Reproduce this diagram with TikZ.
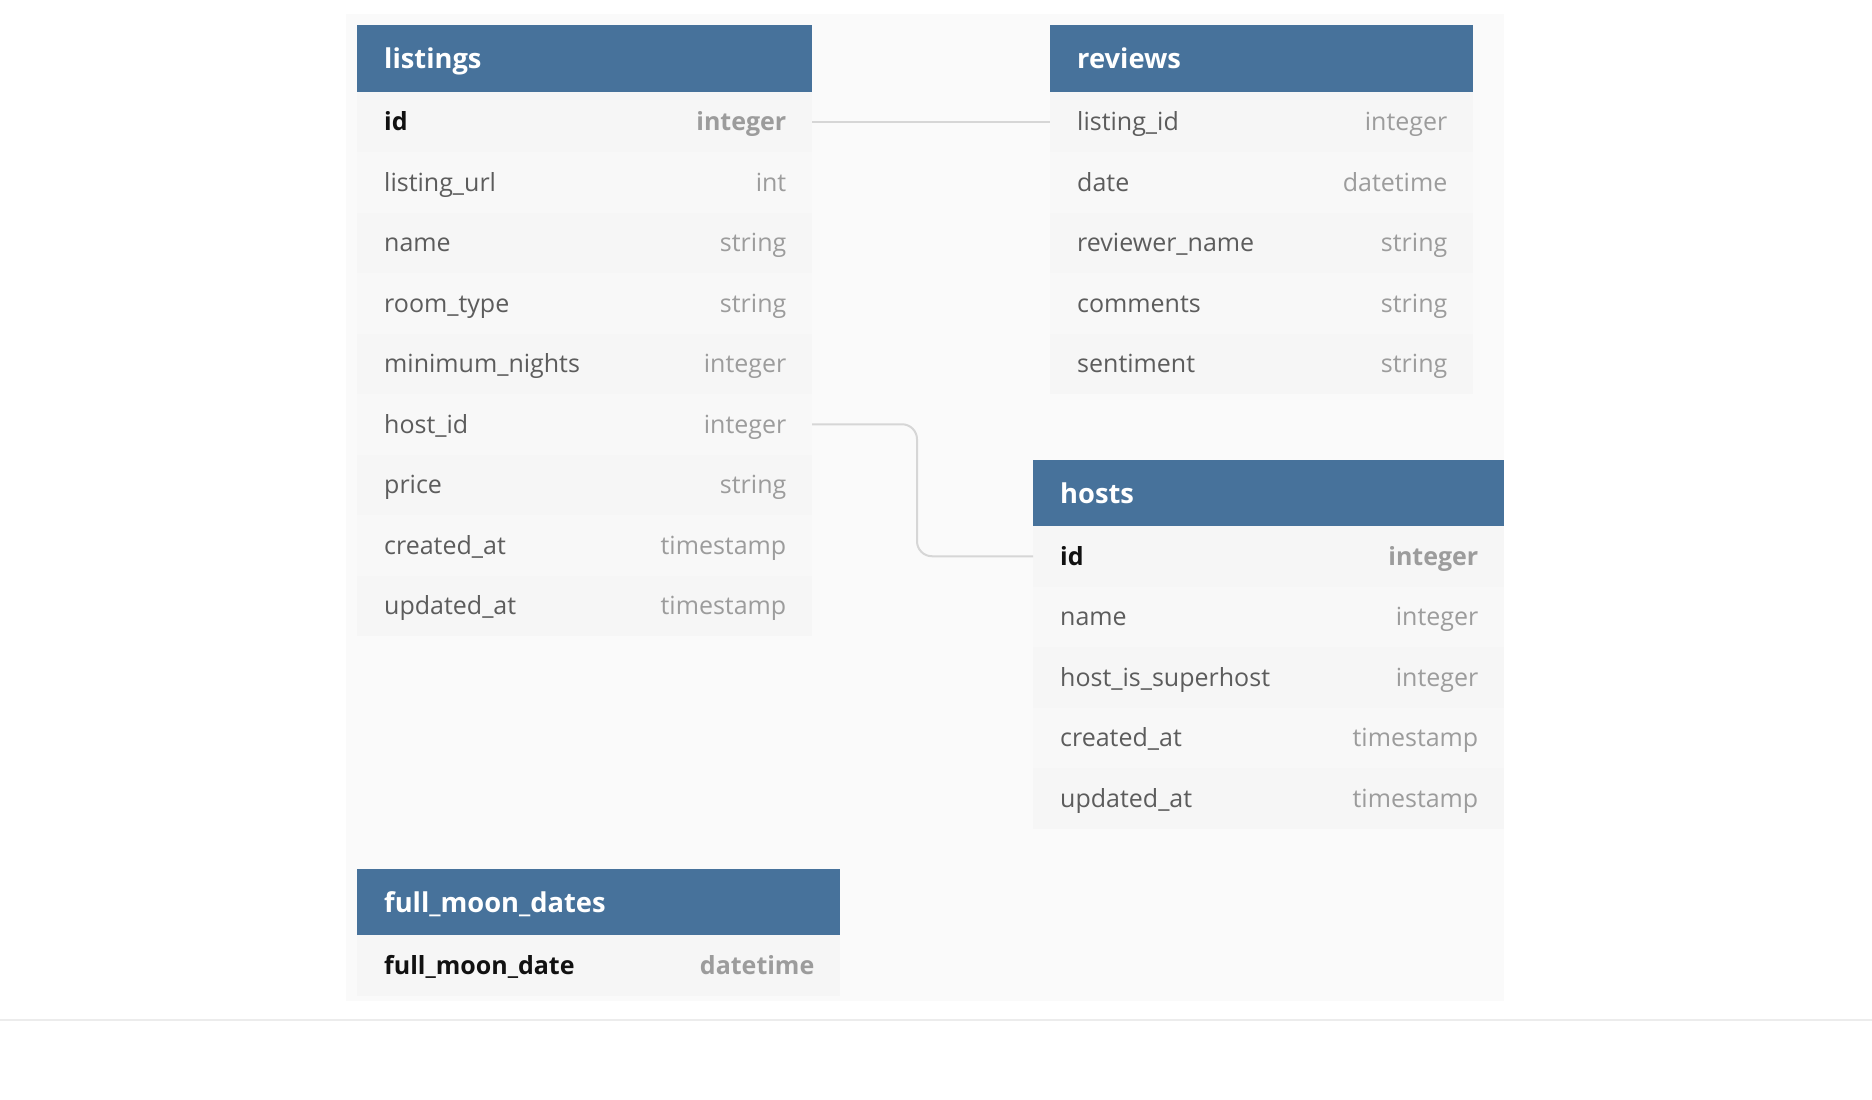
\documentclass[tikz,border=0pt]{standalone}
\usepackage{fontspec}
\setmainfont{Open Sans}
\usetikzlibrary{calc}
\definecolor{hdr}{HTML}{47729B}
\definecolor{rowa}{HTML}{F6F6F6}
\definecolor{rowb}{HTML}{F8F8F8}
\definecolor{panel}{HTML}{FAFAFA}
\definecolor{fieldc}{HTML}{5C5C5C}
\definecolor{typec}{HTML}{9C9C9C}
\definecolor{keyc}{HTML}{111111}
\definecolor{connc}{HTML}{D6D6D6}
\definecolor{rulec}{HTML}{ECECEC}
\tikzset{
  hdrbox/.style={fill=hdr, draw=none, inner sep=0pt, outer sep=0pt, minimum height=66.5pt, anchor=north west},
  hdrtext/.style={text=white, inner sep=0pt, anchor=base west, font=\fontsize{27.3}{31}\selectfont\bfseries},
  rowbox/.style={draw=none, inner sep=0pt, outer sep=0pt, minimum height=60.5pt, anchor=north west},
  plainname/.style={text=fieldc, inner sep=0pt, anchor=base west, font=\fontsize{25}{29}\selectfont},
  plaintype/.style={text=typec, inner sep=0pt, anchor=base east, font=\fontsize{25}{29}\selectfont},
  keyname/.style={text=keyc, inner sep=0pt, anchor=base west, font=\fontsize{25}{29}\selectfont\bfseries},
  keytype/.style={text=typec, inner sep=0pt, anchor=base east, font=\fontsize{25}{29}\selectfont\bfseries},
  conn/.style={draw=connc, line width=2pt},
}
% #1 name, #2 left x, #3 top y, #4 width, #5 field, #6 type, #7 style prefix, #8 fill
\newcommand{\tabrow}[8]{%
  \node[rowbox, fill=#8, minimum width=#4pt] (#1) at (#2,#3) {};
  \node[#7name] (#1-f) at ([xshift=27pt,yshift=-9pt]#1.west) {#5};
  \node[#7type] (#1-t) at ([xshift=-25.5pt,yshift=-9pt]#1.east) {#6};
}
% #1 name, #2 left x, #3 top y, #4 width, #5 title
\newcommand{\tabhead}[5]{%
  \node[hdrbox, minimum width=#4pt] (#1) at (#2,#3) {};
  \node[hdrtext] (#1-title) at ([xshift=27pt,yshift=-10.5pt]#1.west) {#5};
}
\begin{document}
\begin{tikzpicture}[x=1pt,y=-1pt]
\useasboundingbox (0,0) rectangle (1872,1100);
\fill[white] (0,0) rectangle (1872,1100);
\fill[panel] (346,14) rectangle (1504,1001);
\draw[rulec, line width=2pt] (0,1020) -- (1872,1020);

% listings
\tabhead{lh}{357}{25}{455}{listings}
\tabrow{l1}{357}{91.5}{455}{id}{integer}{key}{rowa}
\tabrow{l2}{357}{152}{455}{listing\_url}{int}{plain}{rowb}
\tabrow{l3}{357}{212.5}{455}{name}{string}{plain}{rowa}
\tabrow{l4}{357}{273}{455}{room\_type}{string}{plain}{rowb}
\tabrow{l5}{357}{333.5}{455}{minimum\_nights}{integer}{plain}{rowa}
\tabrow{l6}{357}{394}{455}{host\_id}{integer}{plain}{rowb}
\tabrow{l7}{357}{454.5}{455}{price}{string}{plain}{rowa}
\tabrow{l8}{357}{515}{455}{created\_at}{timestamp}{plain}{rowb}
\tabrow{l9}{357}{575.5}{455}{updated\_at}{timestamp}{plain}{rowa}

% reviews
\tabhead{rh}{1050}{25}{423}{reviews}
\tabrow{r1}{1050}{91.5}{423}{listing\_id}{integer}{plain}{rowa}
\tabrow{r2}{1050}{152}{423}{date}{datetime}{plain}{rowb}
\tabrow{r3}{1050}{212.5}{423}{reviewer\_name}{string}{plain}{rowa}
\tabrow{r4}{1050}{273}{423}{comments}{string}{plain}{rowb}
\tabrow{r5}{1050}{333.5}{423}{sentiment}{string}{plain}{rowa}

% hosts
\tabhead{hh}{1033}{459.5}{471}{hosts}
\tabrow{h1}{1033}{526}{471}{id}{integer}{key}{rowa}
\tabrow{h2}{1033}{586.5}{471}{name}{integer}{plain}{rowb}
\tabrow{h3}{1033}{647}{471}{host\_is\_superhost}{integer}{plain}{rowa}
\tabrow{h4}{1033}{707.5}{471}{created\_at}{timestamp}{plain}{rowb}
\tabrow{h5}{1033}{768}{471}{updated\_at}{timestamp}{plain}{rowa}

% full_moon_dates
\tabhead{fh}{357}{868.5}{483}{full\_moon\_dates}
\tabrow{f1}{357}{935}{483}{full\_moon\_date}{datetime}{key}{rowa}

% connectors
\draw[conn] (l1.east) -- (r1.west);
\coordinate (bend) at (917,500);
\draw[conn, rounded corners=15pt] (l6.east) -| (bend |- h1.west) -- (h1.west);
\end{tikzpicture}
\end{document}
